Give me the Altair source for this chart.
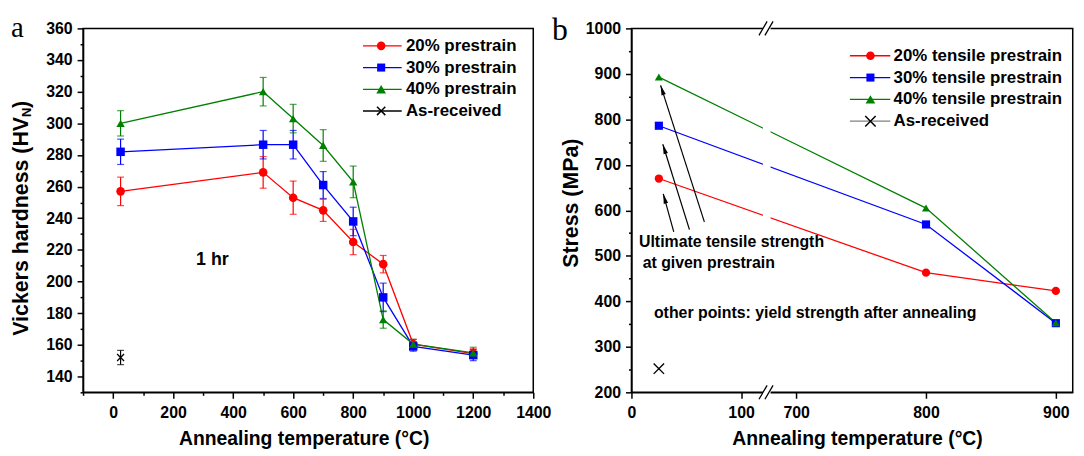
import altair as alt
import pandas as pd

FONT = "Liberation Sans"
SERIF = "Liberation Serif"
RED, BLUE, GREEN = "#FF0000", "#0000FF", "#008000"

# ---------------- Panel a: Vickers hardness vs annealing temperature ----------------
temps_a = [25, 500, 600, 700, 800, 900, 1000, 1200]
hv_20 = [257, 269, 253, 245, 225, 211, 160.5, 154.5]
err_20 = [9, 10, 10.5, 7, 8, 5.5, 3, 3]
hv_30 = [282, 286.5, 286.5, 261, 238, 190, 159, 153.5]
err_30 = [8, 9, 9, 8.5, 9, 9, 3, 3.5]
hv_40 = [300, 320, 303, 286, 263, 176, 160.5, 155]
err_40 = [8, 9, 9, 10, 10, 5.5, 3, 3.5]
asrec_temp_a = [25]
asrec_hv = [152]
asrec_err = [4.5]
series_a = ["20% prestrain", "30% prestrain", "40% prestrain"]

# ---------------- Panel b: stress vs annealing temperature ----------------
temps_b = [25, 800, 900]
ys_20 = [670, 463, 423]
ys_30 = [786, 569, 352]
ys_40 = [893, 605, 353]
asrec_temp_b = [25]
asrec_ys = [252]
series_b = ["20% tensile prestrain", "30% tensile prestrain", "40% tensile prestrain"]

# arrows (annotation): tail -> head in data units of panel b
arrow_tail_x = [38.6, 52.9, 66.5]
arrow_tail_y = [552.8, 557.8, 574.6]
arrow_head_x = [29.0, 28.6, 26.6]
arrow_head_y = [636.3, 745.4, 874.8]
arrow_angle = [344.5, 342.7, 342.3]

XMARK = "M-1,-1L1,1M1,-1L-1,1"
ARROW = "M0,0L0.45,2L-0.45,2Z"
one = pd.DataFrame({"k": [0]})

W_A, W_B, H = 454, 445, 367
SIZES = [75, 66, 95]


def txt(text, x, y, size, angle=None, align="center", baseline="middle",
        font=FONT, weight="bold"):
    kw = dict(text=text, font=font, fontSize=size, fontWeight=weight,
              align=align, baseline=baseline, color="black")
    if angle is not None:
        kw["angle"] = angle
    return alt.Chart(one).mark_text(**kw).encode(x=alt.value(x), y=alt.value(y))


def legend(items, xl0, xl1, xm, xt, y0, dy, fs):
    layers = []
    for i, (label, lcol, mcol, shape, size, filled) in enumerate(items):
        y = y0 + dy * i
        c = alt.Chart(one)
        layers.append(c.mark_rule(color=lcol, strokeWidth=1.3).encode(
            x=alt.value(xl0), x2=alt.value(xl1), y=alt.value(y)))
        layers.append(c.mark_point(shape=shape, size=size, filled=filled, color=mcol,
                                   opacity=1, strokeWidth=1.5).encode(
            x=alt.value(xm), y=alt.value(y)))
        layers.append(txt(label, xt, y, fs, align="left"))
    return layers


# ---------- build panel a ----------
rows = []
for s, vals, errs in zip(series_a, [hv_20, hv_30, hv_40], [err_20, err_30, err_40]):
    for t, v, e in zip(temps_a, vals, errs):
        rows.append({"series": s, "temp": t, "hv": v, "lo": v - e, "hi": v + e})
df_a = pd.DataFrame(rows)
caps_a = pd.concat([
    df_a.assign(cap=df_a["lo"]), df_a.assign(cap=df_a["hi"])
])
df_asa = pd.DataFrame({"temp": asrec_temp_a, "hv": asrec_hv,
                       "lo": [v - e for v, e in zip(asrec_hv, asrec_err)],
                       "hi": [v + e for v, e in zip(asrec_hv, asrec_err)]})
caps_asa = pd.concat([df_asa.assign(cap=df_asa["lo"]), df_asa.assign(cap=df_asa["hi"])])

sc_xa = alt.Scale(domain=[-100, 1400], nice=False, zero=False)
sc_ya = alt.Scale(domain=[130, 360], nice=False, zero=False)
ax_xa = alt.Axis(values=list(range(-100, 1401, 100)), format="d",
                 labelExpr="datum.value % 200 === 0 ? datum.label : ''",
                 tickSize={"condition": {"test": "datum.value % 200 === 0", "value": 6}, "value": 3},
                 labelPadding=6, labelFlush=False, labelOverlap=False, title=None, zindex=0)
ax_ya = alt.Axis(values=list(range(130, 361, 10)), format="d",
                 labelExpr="datum.value % 20 === 0 ? datum.label : ''",
                 tickSize={"condition": {"test": "datum.value % 20 === 0", "value": 6}, "value": 3},
                 labelPadding=5, labelFlush=False, labelOverlap=False, title=None, zindex=0)


def XA(f):
    return alt.X(f"{f}:Q", scale=sc_xa, axis=ax_xa)


def YA(f):
    return alt.Y(f"{f}:Q", scale=sc_ya, axis=ax_ya)


col_a = alt.Color("series:N", scale=alt.Scale(domain=series_a, range=[RED, BLUE, GREEN]), legend=None)
shp_a = alt.Shape("series:N", scale=alt.Scale(domain=series_a, range=["circle", "square", "triangle-up"]), legend=None)
siz_a = alt.Size("series:N", scale=alt.Scale(domain=series_a, range=SIZES), legend=None)

bound_a = alt.Chart(one).mark_rect(opacity=0).encode(
    x=alt.value(-100), x2=alt.value(0), y=alt.value(-50), y2=alt.value(0))
lines_a = alt.Chart(df_a).mark_line(strokeWidth=1.3).encode(x=XA("temp"), y=YA("hv"), color=col_a, detail="series:N")
err_rule_a = alt.Chart(df_a).mark_rule(strokeWidth=1.2).encode(x=XA("temp"), y=YA("lo"), y2="hi:Q", color=col_a)
err_cap_a = alt.Chart(caps_a).mark_tick(orient="horizontal", size=7, thickness=1.2).encode(
    x=XA("temp"), y=YA("cap"), color=col_a)
pts_a = alt.Chart(df_a).mark_point(filled=True, opacity=1).encode(
    x=XA("temp"), y=YA("hv"), color=col_a, shape=shp_a, size=siz_a)
as_rule_a = alt.Chart(df_asa).mark_rule(strokeWidth=1.2, color="black").encode(x=XA("temp"), y=YA("lo"), y2="hi:Q")
as_cap_a = alt.Chart(caps_asa).mark_tick(orient="horizontal", size=7, thickness=1.2, color="black").encode(
    x=XA("temp"), y=YA("cap"))
as_pt_a = alt.Chart(df_asa).mark_point(shape=XMARK, size=49, filled=False, color="black", strokeWidth=1.3, opacity=1).encode(
    x=XA("temp"), y=YA("hv"))
hr_df = pd.DataFrame({"temp": [331], "hv": [213.6], "label": ["1 hr"]})
hr_txt = alt.Chart(hr_df).mark_text(font=FONT, fontSize=18, fontWeight="bold", color="black").encode(
    x=XA("temp"), y=YA("hv"), text="label:N")

leg_a = legend([
    ("20% prestrain", RED, RED, "circle", SIZES[0], True),
    ("30% prestrain", BLUE, BLUE, "square", SIZES[1], True),
    ("40% prestrain", GREEN, GREEN, "triangle-up", SIZES[2], True),
    ("As-received", "black", "black", XMARK, 70, False),
], 282.3, 321.3, 300.6, 325.6, 17.6, 21.9, 17)

titles_a = [
    txt("Annealing temperature (°C)", 223, 414, 19.5),
    txt("Vickers hardness (HV", -61.7, 89.3, 21.5, angle=270, align="right"),
    txt("N", -56.5, 89.3, 13, angle=270, align="left"),
    txt(")", -61.7, 80.3, 21.5, angle=270, align="left"),
    txt("a", -72.7, 8.3, 29, align="left", baseline="alphabetic", font=SERIF, weight="normal"),
]

panel_a = alt.layer(bound_a, lines_a, err_rule_a, err_cap_a, pts_a, as_rule_a, as_cap_a, as_pt_a,
                    hr_txt, *leg_a, *titles_a).properties(width=W_A, height=H)

# ---------- build panel b ----------
rows = []
for s, vals in zip(series_b, [ys_20, ys_30, ys_40]):
    for t, v in zip(temps_b, vals):
        rows.append({"series": s, "temp": t, "ys": v})
df_b = pd.DataFrame(rows)
df_asb = pd.DataFrame({"temp": asrec_temp_b, "ys": asrec_ys})
df_arrow = pd.DataFrame({"tx": arrow_tail_x, "ty": arrow_tail_y, "hx": arrow_head_x,
                         "hy": arrow_head_y, "ang": arrow_angle})

sc_xb = alt.Scale(domain=[0, 123, 677, 913], range=[0, 136, 136, W_B], nice=False, zero=False)
sc_yb = alt.Scale(domain=[200, 1000], nice=False, zero=False)
ax_xb = alt.Axis(values=[0, 100, 700, 800, 900], format="d", tickSize=6, labelPadding=6,
                 labelFlush=False, labelOverlap=False, title=None, zindex=0)
ax_yb = alt.Axis(values=list(range(200, 1001, 50)), format="d",
                 labelExpr="datum.value % 100 === 0 ? datum.label : ''",
                 tickSize={"condition": {"test": "datum.value % 100 === 0", "value": 6}, "value": 3},
                 labelPadding=5, labelFlush=False, labelOverlap=False, title=None, zindex=0)


def XB(f):
    return alt.X(f"{f}:Q", scale=sc_xb, axis=ax_xb)


def YB(f):
    return alt.Y(f"{f}:Q", scale=sc_yb, axis=ax_yb)


col_b = alt.Color("series:N", scale=alt.Scale(domain=series_b, range=[RED, BLUE, GREEN]), legend=None)
shp_b = alt.Shape("series:N", scale=alt.Scale(domain=series_b, range=["circle", "square", "triangle-up"]), legend=None)
siz_b = alt.Size("series:N", scale=alt.Scale(domain=series_b, range=SIZES), legend=None)

bound_b = alt.Chart(one).mark_rect(opacity=0).encode(
    x=alt.value(W_B), x2=alt.value(W_B + 60), y=alt.value(H), y2=alt.value(H + 100))
lines_b = alt.Chart(df_b).mark_line(strokeWidth=1.3).encode(x=XB("temp"), y=YB("ys"), color=col_b, detail="series:N")
gap_b = alt.Chart(one).mark_rect(color="white", opacity=1).encode(
    x=alt.value(132.6), x2=alt.value(140.3), y=alt.value(-3), y2=alt.value(H + 3))
pts_b = alt.Chart(df_b).mark_point(filled=True, opacity=1).encode(
    x=XB("temp"), y=YB("ys"), color=col_b, shape=shp_b, size=siz_b)
as_pt_b = alt.Chart(df_asb).mark_point(shape=XMARK, size=110, filled=False, color="black", strokeWidth=1.4, opacity=1).encode(
    x=XB("temp"), y=YB("ys"))
slashes = []
for yb in [0, H]:
    for x0 in [128.6, 134.6]:
        slashes.append(alt.Chart(one).mark_rule(color="black", strokeWidth=1.3).encode(
            x=alt.value(x0), x2=alt.value(x0 + 8.2), y=alt.value(yb + 7), y2=alt.value(yb - 7)))
arr_shaft = alt.Chart(df_arrow).mark_rule(color="black", strokeWidth=1.2).encode(
    x=XB("tx"), y=YB("ty"), x2="hx:Q", y2="hy:Q")
arr_head = alt.Chart(df_arrow).mark_point(shape=ARROW, size=100, filled=True, color="black", opacity=1).encode(
    x=XB("hx"), y=YB("hy"), angle=alt.Angle("ang:Q", scale=None))
ann_df = pd.DataFrame({
    "temp": [6.9, 10.2, 20.5],
    "ys": [530, 483.6, 374.6],
    "label": ["Ultimate tensile strength", "at given prestrain",
              "other points: yield strength after annealing"],
})
ann_b = alt.Chart(ann_df).mark_text(font=FONT, fontSize=16, fontWeight="bold", color="black",
                                    align="left", baseline="middle").encode(
    x=XB("temp"), y=YB("ys"), text="label:N")

leg_b = legend([
    ("20% tensile prestrain", RED, RED, "circle", SIZES[0], True),
    ("30% tensile prestrain", BLUE, BLUE, "square", SIZES[1], True),
    ("40% tensile prestrain", GREEN, GREEN, "triangle-up", SIZES[2], True),
    ("As-received", "#808080", "black", XMARK, 110, False),
], 220.3, 261, 241, 264.3, 27.6, 22, 17)

titles_b = [
    txt("Annealing temperature (°C)", 228, 414, 19.5),
    txt("Stress (MPa)", -59.7, 176.3, 21.5, angle=270),
    txt("b", -80.1, 11.3, 32, align="left", baseline="alphabetic", font=SERIF, weight="normal"),
]

panel_b = alt.layer(bound_b, lines_b, gap_b, pts_b, as_pt_b, *slashes, arr_shaft, arr_head, ann_b,
                    *leg_b, *titles_b).properties(width=W_B, height=H)

chart = alt.hconcat(panel_a, panel_b, spacing=99, bounds="flush").properties(
    padding={"left": -25.3, "top": -32.3, "right": -57.7, "bottom": -44.7}
).configure_view(stroke="black", strokeWidth=1.5).configure_axis(
    domainColor="black", domainWidth=1.5, tickColor="black", tickWidth=1.5,
    labelFont=FONT, labelFontSize=16, labelFontWeight="bold", labelColor="black", grid=False
)

chart.save("out.html", embed_options={"renderer": "svg", "actions": False})
